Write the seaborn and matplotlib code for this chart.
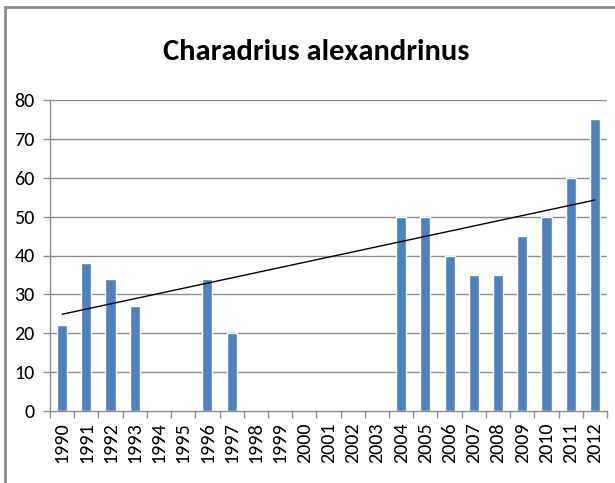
import numpy as np
import pandas as pd
import matplotlib
matplotlib.use("Agg")
import matplotlib.pyplot as plt
import seaborn as sns
from matplotlib.patches import Rectangle

years = [str(y) for y in range(1990, 2013)]
counts = [22, 38, 34, 27, np.nan, np.nan, 34, 20, np.nan, np.nan, np.nan, np.nan,
          np.nan, np.nan, 50, 50, 40, 35, 35, 45, 50, 60, 75]
yticks = [0, 10, 20, 30, 40, 50, 60, 70, 80]
title = "Charadrius alexandrinus"

sns.set_style("white")
plt.rcParams['font.family'] = ['Carlito', 'DejaVu Sans']

df = pd.DataFrame({"year": years, "count": counts})

W, H = 615, 483
fig = plt.figure(figsize=(W / 100, H / 100), dpi=100)
ax = fig.add_axes([50 / W, 72 / H, (607 - 50) / W, (411 - 100) / H])

grid_c = "#8c8c8c"
ax.set_axisbelow(True)
for v in yticks[1:]:
    ax.axhline(v, color=grid_c, lw=1.0, zorder=0)

sns.barplot(data=df, x="year", y="count", order=years, color="#4F81BD",
            width=0.42, saturation=1, ax=ax, zorder=2)

# linear trend on the available values
idx = np.arange(len(years))
vals = np.array(counts, dtype=float)
m = ~np.isnan(vals)
slope, icpt = np.polyfit(idx[m], vals[m], 1)
trend = pd.DataFrame({"x": idx, "y": slope * idx + icpt})
ax.plot(trend["x"], trend["y"], color="black", lw=1.0, zorder=3)

ax.set_xlim(-0.5, len(years) - 0.5)
ax.set_ylim(0, 80)
ax.set_yticks(yticks)
ax.set_yticklabels([str(v) for v in yticks], fontsize=14.5, color="black")
ax.set_xticks(idx)
ax.set_xticklabels(years, rotation=90, fontsize=14.5, color="black")
ax.set_xticks(np.arange(-0.5, len(years), 1.0), minor=True)
ax.tick_params(axis="x", which="major", length=0, pad=8)
ax.tick_params(axis="x", which="minor", length=5, width=1, color=grid_c, direction="out", bottom=True)
ax.tick_params(axis="y", which="major", length=5, width=1, color=grid_c, direction="out", left=True, pad=6)
ax.set_xlabel("")
ax.set_ylabel("")
for s in ["top", "right"]:
    ax.spines[s].set_visible(False)
for s in ["left", "bottom"]:
    ax.spines[s].set_color(grid_c)
    ax.spines[s].set_linewidth(1.0)

fig.text(316 / W, 1 - 52 / H, title, ha="center", va="center", fontsize=22,
         fontweight="bold", color="black", family=["Carlito", "DejaVu Sans"])

fig.patches.append(Rectangle((5 / W, -0.1), 1.2, 1 - 7 / H + 0.1, transform=fig.transFigure,
                             fill=False, edgecolor="#8a8a8a", lw=2))

fig.savefig("out.png", dpi=100)
